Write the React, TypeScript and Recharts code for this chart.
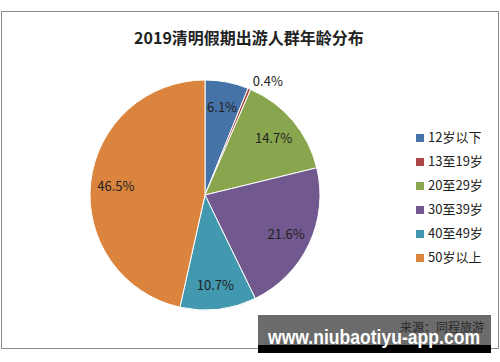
import { PieChart, Pie, Cell, Legend } from 'recharts';

const categories = ['12岁以下', '13至19岁', '20至29岁', '30至39岁', '40至49岁', '50岁以上'];
const shares = [6.1, 0.4, 14.7, 21.6, 10.7, 46.5];
const colors = ['#4572A7', '#AA4643', '#89A54E', '#71588F', '#4198AF', '#DB843D'];

const title = '2019清明假期出游人群年龄分布';
const source = '来源：同程旅游';
const watermark = 'www.niubaotiyu-app.com';

const font = '"Microsoft YaHei", "Noto Sans CJK SC", "Noto Sans", sans-serif';

const RAD = Math.PI / 180;

function renderLabel(props: any) {
  const { cx, cy, midAngle, outerRadius, value } = props;
  // the tiny slice gets its label just outside the rim
  const small = value < 1;
  const r = small ? outerRadius + 16 : outerRadius * 0.78;
  const a = small ? midAngle - 6 : midAngle;
  const x = cx + r * Math.cos(-a * RAD);
  const y = cy + r * Math.sin(-a * RAD);
  return (
    <text x={x} y={y} textAnchor="middle" dominantBaseline="central" fontSize={13} fill="#222" fontFamily={font}>
      {value.toFixed(1)}%
    </text>
  );
}

export default function App() {
  const data = categories.map((name, i) => ({ name, value: shares[i] }));

  return (
    <div style={{ position: 'absolute', left: 0, top: 0, width: 500, height: 362, background: '#fff', fontFamily: font }}>
      <div style={{ position: 'absolute', left: 1, top: 11, width: 496, height: 336, border: '1px solid #8a8a8a' }} />
      <div style={{ position: 'absolute', left: 0, top: 25, width: 498, textAlign: 'center', fontSize: 16, fontWeight: 'bold', color: '#222' }}>
        {title}
      </div>
      <PieChart width={500} height={362} margin={{ top: 0, right: 0, bottom: 0, left: 0 }} style={{ position: 'absolute', left: 0, top: 0 }}>
        <Pie
          data={data}
          dataKey="value"
          nameKey="name"
          cx={205}
          cy={195}
          outerRadius={115}
          startAngle={90}
          endAngle={-270}
          stroke="#fff"
          strokeWidth={1}
          label={renderLabel}
          labelLine={false}
          isAnimationActive={false}
        >
          {data.map((d, i) => (
            <Cell key={d.name} fill={colors[i]} />
          ))}
        </Pie>
        <Legend
          layout="vertical"
          align="right"
          verticalAlign="top"
          iconType="square"
          iconSize={8}
          wrapperStyle={{ left: 416, top: 123, width: 80 }}
          formatter={(value: string) => (
            <span style={{ color: '#222', fontSize: 13, lineHeight: '17px', fontFamily: font }}>{value}</span>
          )}
        />
      </PieChart>
      <div style={{ position: 'absolute', left: 258, top: 315, width: 233, height: 30, background: '#6b6b6b' }} />
      <div style={{ position: 'absolute', left: 258, top: 345, width: 233, height: 8, background: '#000' }} />
      <div style={{ position: 'absolute', left: 400, top: 318, fontSize: 12, color: '#2a2a2a', whiteSpace: 'nowrap' }}>{source}</div>
      <svg width={500} height={362} style={{ position: 'absolute', left: 0, top: 0, pointerEvents: 'none' }}>
        <text
          x={268}
          y={344}
          textLength={212}
          lengthAdjust="spacingAndGlyphs"
          fontSize={20}
          fontWeight="bold"
          fill="#fff"
          fontFamily='"Liberation Sans", Arial, sans-serif'
        >
          {watermark}
        </text>
      </svg>
    </div>
  );
}
